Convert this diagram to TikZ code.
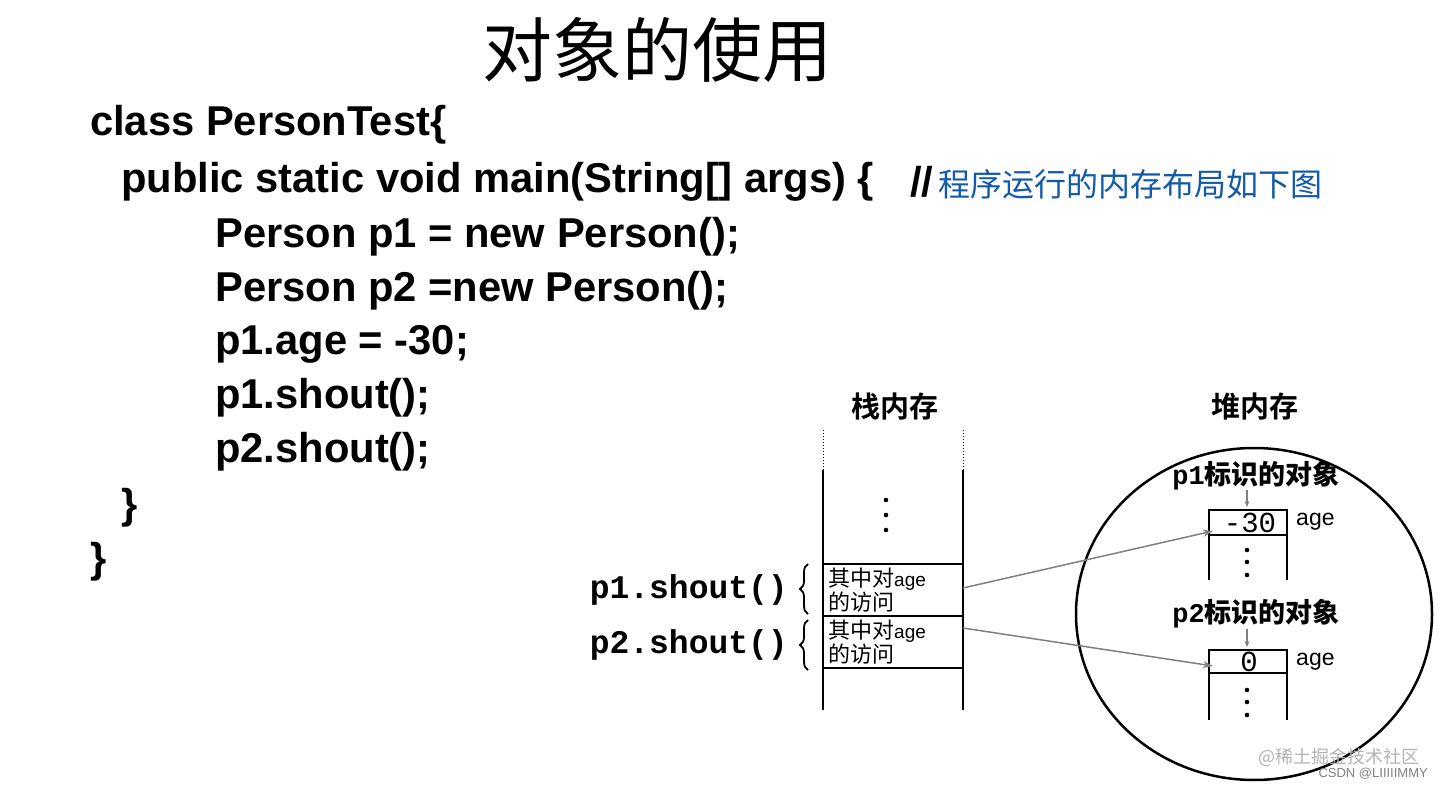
\documentclass[tikz,border=0pt]{standalone}
\usepackage{fontspec}
\setmainfont{Liberation Sans}
\newfontfamily\cjk{Noto Sans CJK SC}
\newfontfamily\cjkb{Noto Sans CJK SC Bold}
\newfontfamily\mono{Liberation Mono}
\usetikzlibrary{arrows.meta,decorations.pathreplacing}
\begin{document}
\begin{tikzpicture}[x=1pt,y=-1pt,
  code/.style={anchor=west,inner sep=0pt,font=\fontsize{41.7}{44}\selectfont\bfseries},
  hdr/.style={font=\fontsize{29}{30}\selectfont\cjkb},
  cell/.style={font=\fontsize{22}{22}\selectfont\cjk,align=left,anchor=west,inner sep=0pt},
  lbl/.style={font=\fontsize{33}{33}\selectfont\mono\bfseries,anchor=east,inner sep=0pt},
  ln/.style={line width=1.5pt},
  ptr/.style={gray,line width=1.5pt,-{Stealth[length=10pt,width=7pt]}},
  small/.style={gray,line width=1.2pt,-{Stealth[length=6pt,width=5pt]}}]
\useasboundingbox (0,0) rectangle (1444,789);
\node (title) at (657,50) {\fontsize{70}{74}\selectfont\cjk 对象的使用};
\node[code] (c1) at (90,125) {class PersonTest\{};
\node[code] (c2) at (121,182) {public static void main(String[] args) \{};
\node[code] (cm1) at (910,182) {//};
\node[anchor=west,inner sep=0pt,text={rgb,255:red,20;green,90;blue,170}] (cm2) at (938,184) {\fontsize{32}{34}\selectfont\cjk 程序运行的内存布局如下图};
\node[code] (c3) at (215,237) {Person p1 = new Person();};
\node[code] (c4) at (215,291) {Person p2 =new Person();};
\node[code] (c5) at (215,344) {p1.age = -30;};
\node[code] (c6) at (215,398) {p1.shout();};
\node[code] (c7) at (215,452) {p2.shout();};
\node[code] (c8) at (121,508) {\}};
\node[code] (c9) at (90,562) {\}};
% stack
\node[hdr] (sh) at (895,407) {栈内存};
\draw[dotted,line width=1pt] (823,430) -- (823,470) (963,430) -- (963,470);
\draw[ln] (823,470) -- (823,710) (963,470) -- (963,710);
\draw[ln] (823,564) -- (963,564) (823,616) -- (963,616) (823,668) -- (963,668);
\foreach \y in {500,515,530} \fill (886,\y) circle (2.3pt);
\node[cell] (s1) at (828,590) {其中对{\fontspec{Liberation Sans}\fontsize{19}{19}\selectfont age}\\的访问};
\node[cell] (s2) at (828,642) {其中对{\fontspec{Liberation Sans}\fontsize{19}{19}\selectfont age}\\的访问};
\coordinate (s1r) at (963,588);
\coordinate (s2r) at (963,628);
\node[lbl] (l1) at (788,590) {p1.shout()};
\node[lbl] (l2) at (788,645) {p2.shout()};
\draw[line width=1.8pt,decorate,decoration={brace,amplitude=8pt}] (808,614) -- (808,564);
\draw[line width=1.8pt,decorate,decoration={brace,amplitude=8pt}] (808,670) -- (808,620);
% heap
\node[hdr] (hh) at (1255,407) {堆内存};
\draw[line width=2.5pt] (1254,614) ellipse [x radius=178,y radius=166];
\node[font=\fontsize{27}{27}\selectfont\cjkb] (o1) at (1256,476) {\fontspec{Liberation Mono}\bfseries p1\cjkb 标识的对象};
\node[font=\fontsize{27}{27}\selectfont\cjkb] (o2) at (1256,614) {\fontspec{Liberation Mono}\bfseries p2\cjkb 标识的对象};
\draw[ln] (1209,580) -- (1209,510) -- (1287,510) -- (1287,580) (1209,535) -- (1287,535);
\draw[ln] (1209,720) -- (1209,650) -- (1287,650) -- (1287,720) (1209,673) -- (1287,673);
\node[inner sep=0pt,font=\fontsize{29}{29}\selectfont\mono] (v1) at (1250,523) {-30};
\node[inner sep=0pt,font=\fontsize{29}{29}\selectfont\mono] (v2) at (1249,662) {0};
\node[anchor=west,inner sep=0pt,font=\fontsize{23}{23}\selectfont] (a1) at (1296,522) {age};
\node[anchor=west,inner sep=0pt,font=\fontsize{23}{23}\selectfont] (a2) at (1296,662) {age};
\foreach \y in {550,562,575} \fill (1247,\y) circle (2.3pt);
\foreach \y in {690,702,715} \fill (1247,\y) circle (2.3pt);
\draw[small] (1247,490) -- (1247,507);
\draw[small] (1247,629) -- (1247,647);
\coordinate (t1) at (1213,531);
\coordinate (t2) at (1213,666);
\draw[ptr] (s1r) -- (t1);
\draw[ptr] (s2r) -- (t2);
\node[anchor=east,inner sep=0pt,text=gray!60,font=\fontsize{18}{18}\selectfont\cjk] (w1) at (1420,757) {@稀土掘金技术社区};
\node[anchor=east,inner sep=0pt,text=gray,font=\fontsize{13}{13}\selectfont] (w2) at (1428,774) {CSDN @LIIIIIMMY};
\end{tikzpicture}
\end{document}
